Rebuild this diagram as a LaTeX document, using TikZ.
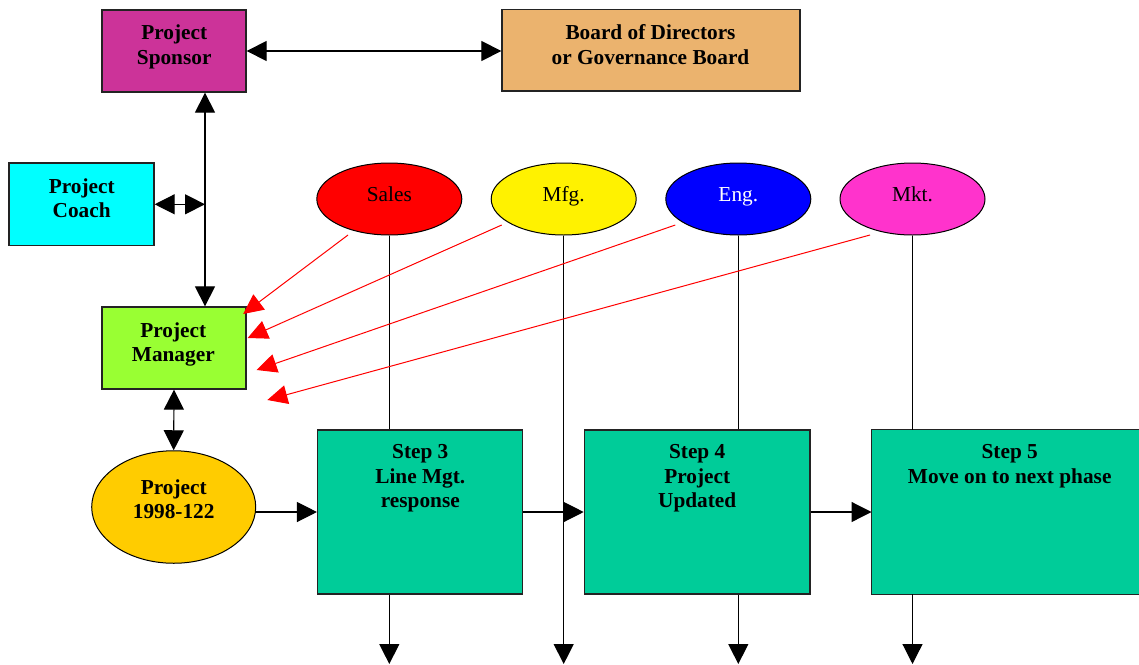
\documentclass[tikz,border=0pt]{standalone}
\usepackage{fontspec}
\setmainfont{Liberation Serif}
\usetikzlibrary{arrows.meta,shapes.geometric}

\definecolor{sponsorc}{RGB}{204,51,153}
\definecolor{boardc}{RGB}{235,179,110}
\definecolor{coachc}{RGB}{0,255,255}
\definecolor{managerc}{RGB}{153,255,51}
\definecolor{projc}{RGB}{255,204,0}
\definecolor{stepc}{RGB}{0,204,153}
\definecolor{mktc}{RGB}{255,51,204}
\definecolor{edgec}{RGB}{35,35,35}

\begin{document}
\begin{tikzpicture}[x=1pt,y=-1pt,
  box/.style={draw=edgec, line width=1.3pt, rectangle, inner sep=0pt},
  dept/.style={draw=black, line width=1pt, ellipse, inner sep=0pt,
    minimum width=145pt, minimum height=72pt,
    font=\fontsize{21.3}{24.5}\selectfont, text height=14.4pt, text depth=10.4pt},
  txt/.style={anchor=north, inner sep=0pt, align=center,
    font=\fontsize{21.3}{24.5}\selectfont\bfseries},
  link/.style={line width=1.2pt, -{Triangle[length=20pt,width=20pt]}},
  both/.style={line width=1.2pt,
    {Triangle[length=20pt,width=20pt]}-{Triangle[length=20pt,width=20pt]}},
  feed/.style={red, line width=1pt, -{Triangle[length=20pt,width=19pt]}},
  plain/.style={line width=1.2pt}
]
\useasboundingbox (0,0) rectangle (1139,664);

% governance boxes
\node[box, fill=sponsorc, minimum width=144pt, minimum height=82pt] (sponsor) at (174,51) {};
\node[box, fill=boardc, minimum width=298pt, minimum height=81.5pt] (board) at (651,50.3) {};
\node[box, fill=coachc, minimum width=145pt, minimum height=82.5pt] (coach) at (81.5,204.3) {};
\node[box, fill=managerc, minimum width=144pt, minimum height=82pt] (manager) at (174,348) {};
\node[draw=black, line width=1pt, ellipse, fill=projc, minimum width=164pt, minimum height=112.5pt, inner sep=0pt] (proj) at (173.7,507) {};

% process steps; the last one is only filled up to the page edge
\node[box, fill=stepc, minimum width=205pt, minimum height=164pt] (step3) at (420.1,512) {};
\node[box, fill=stepc, minimum width=225.7pt, minimum height=164pt] (step4) at (697.2,512) {};
\node[rectangle, inner sep=0pt, fill=stepc, minimum width=270pt, minimum height=164pt] (step5) at (1006.7,512) {};
\draw[edgec, line width=1.3pt] (step5.north east) -- (step5.north west) -- (step5.south west) -- (step5.south east);

% departments
\node[dept, fill=red] (sales) at (389.3,199) {Sales};
\node[dept, fill=yellow] (mfg) at (563.7,199) {Mfg.};
\node[dept, fill=blue, text=white] (eng) at (738.3,199) {Eng.};
\node[dept, fill=mktc] (mkt) at (912.5,199) {Mkt.};

% box texts
\node[txt] (sponsortxt) at (174.2,24.9) {Project\\Sponsor};
\node[txt] (boardtxt) at (650.5,24.4) {Board of Directors\\or Governance Board};
\node[txt] (coachtxt) at (81.7,178.4) {Project\\Coach};
\node[txt] (managertxt) at (173.3,322.1) {Project\\Manager};
\node[txt] (projtxt) at (173.7,479.4) {Project\\1998-122};
\node[txt] (step3txt) at (420.3,444.4) {Step 3\\Line Mgt.\\response};
\node[txt] (step4txt) at (697.2,444.4) {Step 4\\Project\\Updated};
\node[txt] (step5txt) at (1009.7,444.4) {Step 5\\Move on to next phase};

% helper coordinates
\coordinate (spine) at (205,200);
\coordinate (bottom) at (0,664);

% reporting lines
\draw[both] (sponsor.east) -- (sponsor.east -| board.west);
\draw[both] (sponsor.south -| spine) -- (manager.north -| spine);
\draw[both] (coach.east) -- (coach.east -| spine);
\draw[both] (manager.south) -- (proj.north);

% process flow
\draw[link] (proj.east |- step3.west) -- (step3.west);
\draw[link] (step3.east) -- (step4.west);
\draw[link] (step4.east) -- (step5.west);

% department lanes
\draw[plain] (sales.south) -- (sales.south |- step3.north);
\draw[link] (sales.south |- step3.south) -- (sales.south |- bottom);
\draw[link] (mfg.south) -- (mfg.south |- bottom);
\draw[plain] (eng.south) -- (eng.south |- step4.north);
\draw[link] (eng.south |- step4.south) -- (eng.south |- bottom);
\draw[plain] (mkt.south) -- (mkt.south |- step5.north);
\draw[link] (mkt.south |- step5.south) -- (mkt.south |- bottom);

% department feedback to the manager
\coordinate (salesfoot) at ([shift={(-41.3,36)}]sales.center);
\coordinate (mfgfoot) at ([shift={(-62,26)}]mfg.center);
\coordinate (engfoot) at ([shift={(-63,26)}]eng.center);
\coordinate (mktfoot) at ([shift={(-42.5,36)}]mkt.center);
\coordinate (salestip) at ([shift={(-3.5,-34)}]manager.east);
\coordinate (mfgtip) at ([shift={(1,-10)}]manager.east);
\coordinate (engtip) at ([shift={(10,22)}]manager.east);
\coordinate (mkttip) at ([shift={(20.7,52)}]manager.east);
\draw[feed] (salesfoot) -- (salestip);
\draw[feed] (mfgfoot) -- (mfgtip);
\draw[feed] (engfoot) -- (engtip);
\draw[feed] (mktfoot) -- (mkttip);
\end{tikzpicture}
\end{document}
